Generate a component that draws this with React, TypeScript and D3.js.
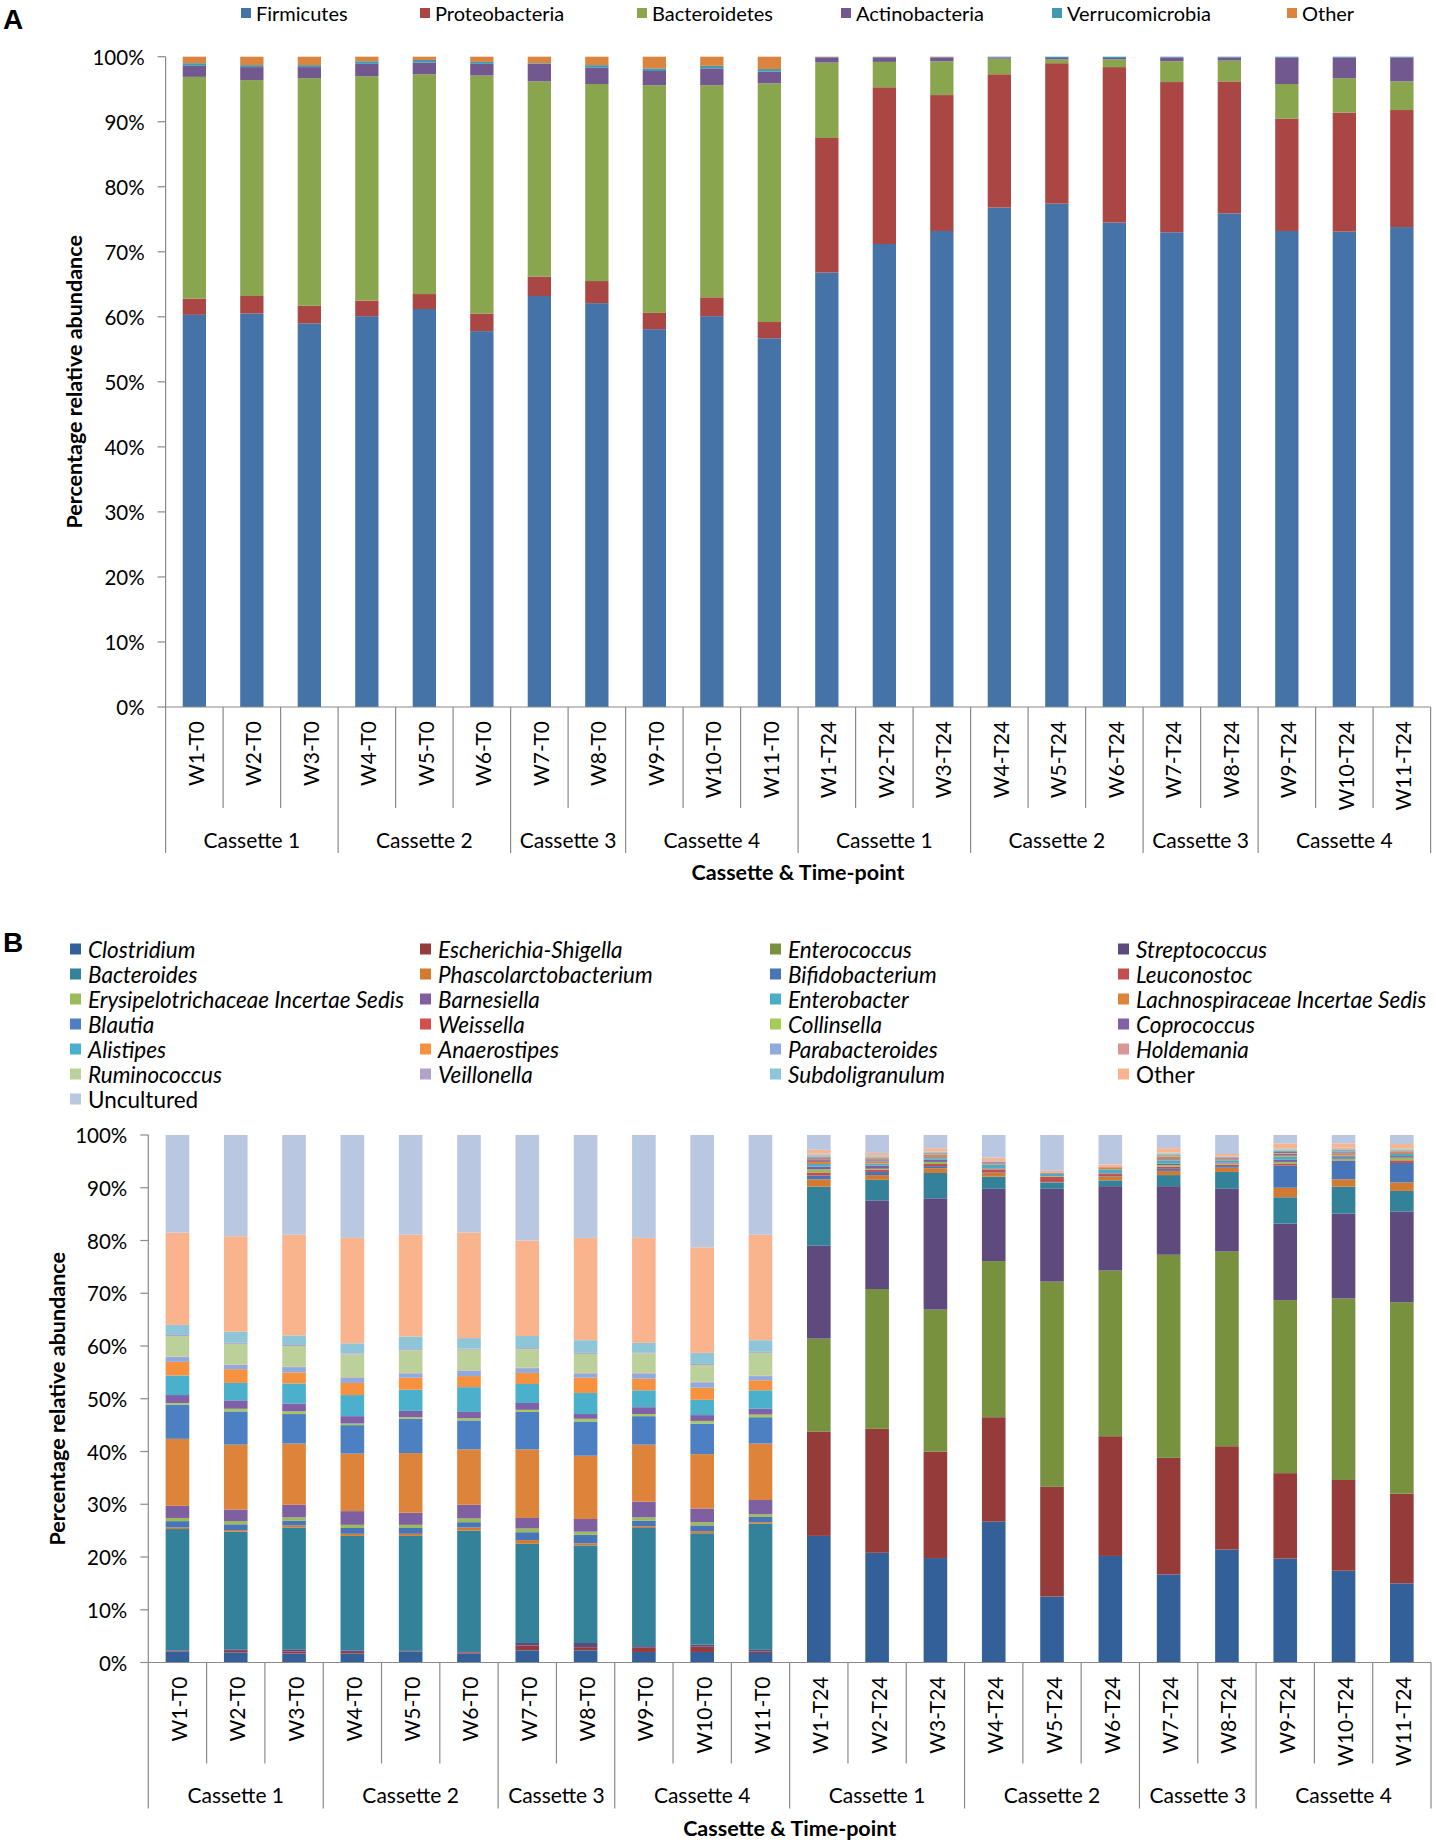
import React from "react";
import * as d3 from "d3";

// ---------------- DATA ----------------
const categories = [
  "W1-T0", "W2-T0", "W3-T0", "W4-T0", "W5-T0", "W6-T0", "W7-T0", "W8-T0", "W9-T0", "W10-T0", "W11-T0",
  "W1-T24", "W2-T24", "W3-T24", "W4-T24", "W5-T24", "W6-T24", "W7-T24", "W8-T24", "W9-T24", "W10-T24", "W11-T24",
];
const cassetteLabels = ["Cassette 1", "Cassette 2", "Cassette 3", "Cassette 4", "Cassette 1", "Cassette 2", "Cassette 3", "Cassette 4"];
const cassetteSizes = [3, 3, 2, 3, 3, 3, 2, 3];
const yTickValues = [0, 0.1, 0.2, 0.3, 0.4, 0.5, 0.6, 0.7, 0.8, 0.9, 1];

// Panel A (phylum level)
const phylumNames = ["Firmicutes", "Proteobacteria", "Bacteroidetes", "Actinobacteria", "Verrucomicrobia", "Other"];
const firmicutes = [60.3, 60.5, 59.0, 60.1, 61.2, 57.8, 63.2, 62.1, 58.1, 60.1, 56.7, 66.8, 71.2, 73.2, 76.8, 77.4, 74.5, 73.0, 75.9, 73.2, 73.1, 73.8];
const proteobacteria = [2.5, 2.7, 2.7, 2.4, 2.3, 2.7, 3.0, 3.4, 2.5, 2.9, 2.5, 20.7, 24.1, 20.9, 20.5, 21.6, 23.9, 23.1, 20.3, 17.3, 18.3, 18.0];
const bacteroidetes = [34.1, 33.2, 35.0, 34.5, 33.8, 36.6, 30.0, 30.3, 35.0, 32.6, 36.7, 11.6, 3.9, 5.2, 2.4, 0.6, 1.2, 3.2, 3.2, 5.3, 5.3, 4.4];
const actinobacteria = [1.7, 2.0, 1.7, 1.9, 1.8, 1.8, 2.7, 2.5, 2.2, 2.6, 1.8, 0.8, 0.7, 0.6, 0.2, 0.2, 0.2, 0.6, 0.5, 4.1, 3.2, 3.7];
const verrucomicrobia = [0.4, 0.3, 0.3, 0.4, 0.4, 0.3, 0.1, 0.4, 0.4, 0.4, 0.4, 0.05, 0.05, 0.05, 0.1, 0.2, 0.2, 0.1, 0.1, 0.1, 0.1, 0.1];
const phylumOther = [1.0, 1.3, 1.3, 0.7, 0.5, 0.8, 1.0, 1.3, 1.8, 1.4, 1.9, 0.05, 0.05, 0.05, 0, 0, 0, 0, 0, 0, 0, 0];
const phylumValues = [firmicutes, proteobacteria, bacteroidetes, actinobacteria, verrucomicrobia, phylumOther];
const phylumColors = ["#4572A7", "#AA4643", "#89A54E", "#71588F", "#4198AF", "#DB843D"];

// Panel B (genus level)
const genusNames = [
  "Clostridium", "Escherichia-Shigella", "Enterococcus", "Streptococcus",
  "Bacteroides", "Phascolarctobacterium", "Bifidobacterium", "Leuconostoc",
  "Erysipelotrichaceae Incertae Sedis", "Barnesiella", "Enterobacter", "Lachnospiraceae Incertae Sedis",
  "Blautia", "Weissella", "Collinsella", "Coprococcus",
  "Alistipes", "Anaerostipes", "Parabacteroides", "Holdemania",
  "Ruminococcus", "Veillonella", "Subdoligranulum", "Other",
  "Uncultured",
];
const clostridium = [2.0, 1.9, 1.7, 1.7, 2.0, 1.7, 2.3, 2.3, 2.0, 2.0, 1.8, 24.0, 20.8, 19.8, 26.7, 12.5, 20.2, 16.7, 21.4, 19.7, 17.4, 15.0];
const escherichia = [0.1, 0.3, 0.4, 0.3, 0.1, 0.2, 0.9, 0.6, 0.8, 1.0, 0.3, 19.8, 23.5, 20.2, 19.8, 20.8, 22.7, 22.1, 19.6, 16.2, 17.2, 17.0];
const enterococcus = [0, 0, 0, 0, 0, 0, 0, 0, 0, 0, 0, 17.6, 26.5, 26.9, 29.6, 38.9, 31.4, 38.5, 36.9, 32.8, 34.4, 36.3];
const streptococcus = [0.2, 0.3, 0.4, 0.3, 0.1, 0.1, 0.5, 0.8, 0.3, 0.4, 0.3, 17.6, 16.8, 21.1, 13.7, 17.6, 16.0, 13.0, 11.9, 14.5, 16.1, 17.2];
const bacteroides = [23.0, 22.3, 23.1, 21.7, 21.8, 23.0, 18.8, 18.5, 22.4, 21.1, 23.9, 11.2, 3.9, 4.8, 2.3, 1.1, 1.1, 2.1, 3.2, 5.0, 5.1, 3.9];
const phascolarctobacterium = [0.3, 0.3, 0.4, 0.4, 0.4, 0.6, 0.7, 0.4, 0.3, 0.4, 0.3, 1.4, 0.9, 0.9, 0.7, 0.1, 0.7, 0.8, 0.8, 1.8, 1.4, 1.6];
const bifidobacterium = [1.2, 1.1, 0.9, 1.1, 1.1, 1.0, 1.5, 1.6, 1.1, 1.1, 1.0, 0.7, 0.6, 0.4, 0.1, 0.1, 0.1, 0.4, 0.3, 4.2, 3.5, 3.7];
const leuconostoc = [0, 0, 0, 0, 0, 0, 0, 0, 0, 0, 0, 0.6, 0.4, 0.4, 0.6, 1.0, 0.4, 0.4, 0.3, 0.4, 0.1, 0.5];
const erysipelotrichaceae = [0.6, 0.6, 0.6, 0.6, 0.6, 0.7, 0.7, 0.6, 0.6, 0.6, 0.5, 0.6, 0.2, 0.4, 0.1, 0.1, 0.1, 0.3, 0.2, 0.3, 0.3, 0.5];
const barnesiella = [2.3, 2.2, 2.4, 2.6, 2.3, 2.6, 2.0, 2.4, 3.0, 2.6, 2.7, 0.5, 0.6, 0.4, 0.1, 0, 0.1, 0.3, 0.2, 0.4, 0.3, 0.3];
const enterobacter = [0, 0, 0, 0, 0, 0, 0, 0, 0, 0, 0, 0.5, 0.4, 0.3, 0.7, 0.5, 0.7, 0.6, 0.4, 0.6, 0.3, 0.4];
const lachnospiraceae = [12.7, 12.3, 11.6, 10.9, 11.3, 10.5, 13.0, 12.0, 10.8, 10.3, 10.7, 0.4, 0.4, 0.3, 0.2, 0, 0.3, 0.3, 0.2, 0.3, 0.4, 0.2];
const blautia = [6.5, 6.3, 5.6, 5.4, 6.5, 5.5, 7.1, 6.5, 5.4, 5.8, 5.0, 0.2, 0.2, 0.2, 0.1, 0, 0, 0.2, 0.1, 0.2, 0.2, 0.1];
const weissella = [0, 0, 0, 0, 0, 0, 0, 0, 0, 0, 0, 0.3, 0.2, 0.2, 0.1, 0.1, 0.1, 0.2, 0.1, 0.1, 0.1, 0.1];
const collinsella = [0.3, 0.5, 0.5, 0.3, 0.3, 0.4, 0.4, 0.5, 0.4, 0.5, 0.5, 0.1, 0.1, 0.1, 0, 0, 0, 0.1, 0, 0.1, 0.1, 0.1];
const coprococcus = [1.5, 1.6, 1.5, 1.4, 1.2, 1.2, 1.3, 0.9, 1.3, 1.1, 1.1, 0.2, 0.1, 0.1, 0.1, 0, 0, 0.1, 0.1, 0.2, 0.1, 0.1];
const alistipes = [3.7, 3.3, 3.8, 4.0, 4.0, 4.7, 3.6, 4.0, 3.2, 2.9, 3.5, 0.2, 0.1, 0.1, 0, 0, 0, 0.2, 0.1, 0.2, 0.2, 0.1];
const anaerostipes = [2.6, 2.6, 2.1, 2.3, 2.3, 2.1, 2.1, 2.9, 2.2, 2.3, 1.9, 0.1, 0.1, 0.1, 0, 0, 0, 0.1, 0, 0.1, 0.1, 0.1];
const parabacteroides = [0.9, 0.8, 1.0, 1.0, 0.8, 1.0, 0.9, 0.8, 1.0, 1.0, 0.8, 0.1, 0.1, 0, 0.1, 0, 0, 0.1, 0.1, 0.1, 0.1, 0.1];
const holdemania = [0.1, 0.1, 0.1, 0.1, 0.1, 0.1, 0.1, 0.1, 0.1, 0.1, 0.1, 0.1, 0.1, 0.1, 0, 0, 0, 0, 0, 0.1, 0.1, 0];
const ruminococcus = [3.9, 3.9, 3.9, 4.3, 4.3, 3.9, 3.5, 3.6, 3.7, 3.2, 4.3, 0.1, 0.1, 0, 0, 0, 0, 0.1, 0, 0.1, 0, 0.1];
const veillonella = [0.2, 0.2, 0.2, 0.2, 0.2, 0.2, 0.2, 0.2, 0.2, 0.2, 0.2, 0.1, 0, 0, 0, 0, 0, 0, 0, 0, 0.1, 0];
const subdoligranulum = [1.9, 2.1, 1.8, 1.9, 2.4, 2.0, 2.3, 2.4, 1.8, 2.1, 2.2, 0.1, 0.1, 0.1, 0, 0, 0, 0.1, 0, 0.1, 0, 0.1];
const genusOther = [17.5, 18.1, 19.1, 20.0, 19.3, 20.0, 18.1, 19.4, 19.9, 20.0, 20.0, 0.7, 0.4, 0.6, 0.7, 0.4, 0.5, 0.8, 0.5, 0.9, 0.8, 0.8];
const uncultured = [18.5, 19.2, 18.9, 19.5, 18.9, 18.5, 20.0, 19.5, 19.5, 21.3, 18.9, 2.8, 3.4, 2.5, 4.3, 6.8, 5.6, 2.5, 3.6, 1.6, 1.6, 1.7];
const genusValues = [
  clostridium, escherichia, enterococcus, streptococcus,
  bacteroides, phascolarctobacterium, bifidobacterium, leuconostoc,
  erysipelotrichaceae, barnesiella, enterobacter, lachnospiraceae,
  blautia, weissella, collinsella, coprococcus,
  alistipes, anaerostipes, parabacteroides, holdemania,
  ruminococcus, veillonella, subdoligranulum, genusOther,
  uncultured,
];
const genusColors = [
  "#34609A", "#953B39", "#77913F", "#5E4A7C",
  "#33829A", "#D27A30", "#4775B8", "#C0504D",
  "#9BBB59", "#7E5FA0", "#4BACC6", "#DE843A",
  "#4C80C2", "#D24F4C", "#A7C957", "#8060A8",
  "#4AB0CC", "#F6923F", "#8FAADC", "#D99694",
  "#BCD19A", "#B3A2C7", "#8EC6D8", "#F9B38D",
  "#B9C7E1",
];
const nonItalic = ["Other", "Uncultured"];

// ---------------- LAYOUT ----------------
const W = 1436;
const H = 1844;
const FONT = "Lato, 'Open Sans', sans-serif";
const AXIS = "#8A8A8A";

type PanelCfg = {
  keys: string[];
  values: number[][];
  colors: string[];
  x0: number;
  x1: number;
  yTop: number;
  yBottom: number;
  yTitleX: number;
};

function Panel({ cfg }: { cfg: PanelCfg }) {
  const rows = categories.map((c, i) => {
    const r: any = { cat: c };
    cfg.keys.forEach((k, j) => (r[k] = cfg.values[j][i]));
    return r;
  });
  const stack = d3.stack<any>().keys(cfg.keys).offset(d3.stackOffsetExpand);
  const layers = stack(rows);

  const x = d3
    .scaleBand<string>()
    .domain(categories)
    .range([cfg.x0, cfg.x1])
    .paddingInner(0.595)
    .paddingOuter(0.2975);
  const step = x.step();
  const y = d3.scaleLinear().domain([0, 1]).range([cfg.yBottom, cfg.yTop]);
  const fmt = d3.format(".0%");

  const axisY = cfg.yBottom;
  const bounds: number[] = [0];
  cassetteSizes.forEach((s) => bounds.push(bounds[bounds.length - 1] + s));
  const slotX = (i: number) => cfg.x0 + i * step;

  return (
    <g>
      {layers.map((layer, li) => (
        <g key={cfg.keys[li]} fill={cfg.colors[li]}>
          {layer.map((d: any) => {
            const h = y(d[0]) - y(d[1]);
            if (!(h > 0.01)) return null;
            return (
              <rect
                key={d.data.cat}
                x={x(d.data.cat)}
                y={y(d[1])}
                width={x.bandwidth()}
                height={h}
              />
            );
          })}
        </g>
      ))}

      {/* y axis */}
      <line x1={cfg.x0} x2={cfg.x0} y1={cfg.yTop} y2={cfg.yBottom} stroke={AXIS} strokeWidth={1.2} />
      {yTickValues.map((t) => (
        <g key={t}>
          <line x1={cfg.x0 - 8} x2={cfg.x0} y1={y(t)} y2={y(t)} stroke={AXIS} strokeWidth={1.2} />
          <text
            x={cfg.x0 - 21}
            y={y(t)}
            textAnchor="end"
            dominantBaseline="central"
            fontFamily={FONT}
            fontSize={20.5}
            fill="#000"
          >
            {fmt(t)}
          </text>
        </g>
      ))}

      {/* x axis */}
      <line x1={cfg.x0} x2={cfg.x1} y1={axisY} y2={axisY} stroke={AXIS} strokeWidth={1.2} />
      {categories.map((c, i) => {
        const isBound = bounds.includes(i);
        return (
          <line
            key={"sep" + i}
            x1={slotX(i)}
            x2={slotX(i)}
            y1={axisY}
            y2={axisY + (isBound ? 146 : 101)}
            stroke={AXIS}
            strokeWidth={1.2}
          />
        );
      })}
      <line x1={slotX(categories.length)} x2={slotX(categories.length)} y1={axisY} y2={axisY + 146} stroke={AXIS} strokeWidth={1.2} />
      {categories.map((c) => (
        <text
          key={"lab" + c}
          transform={`translate(${(x(c) as number) + x.bandwidth() / 2 + 1},${axisY + 14}) rotate(-90)`}
          textAnchor="end"
          dominantBaseline="central"
          fontFamily={FONT}
          fontSize={21}
          fill="#000"
        >
          {c}
        </text>
      ))}
      {cassetteLabels.map((lab, gi) => {
        const cx = (slotX(bounds[gi]) + slotX(bounds[gi + 1])) / 2;
        return (
          <text
            key={"cas" + gi}
            x={cx}
            y={axisY + 132}
            textAnchor="middle"
            dominantBaseline="central"
            fontFamily={FONT}
            fontSize={21}
            fill="#000"
          >
            {lab}
          </text>
        );
      })}
      <text
        x={(cfg.x0 + cfg.x1) / 2}
        y={axisY + 165}
        textAnchor="middle"
        dominantBaseline="central"
        fontFamily={FONT}
        fontSize={21.5}
        fontWeight="bold"
        fill="#000"
      >
        Cassette &amp; Time-point
      </text>
      <text
        transform={`translate(${cfg.yTitleX},${(cfg.yTop + cfg.yBottom) / 2}) rotate(-90)`}
        textAnchor="middle"
        dominantBaseline="central"
        fontFamily={FONT}
        fontSize={21.5}
        fontWeight="bold"
        fill="#000"
      >
        Percentage relative abundance
      </text>
    </g>
  );
}

// legend layout
const legendAX = [241, 420, 637, 841, 1052, 1287];
const legendAY = 13;
const legendBColX = [70, 420, 770, 1118];
const legendBRowY0 = 949;
const legendBRowStep = 25;

export default function App() {
  const cfgA: PanelCfg = {
    keys: phylumNames,
    values: phylumValues,
    colors: phylumColors,
    x0: 165.6,
    x1: 1430.6,
    yTop: 56.7,
    yBottom: 707,
    yTitleX: 74,
  };
  const cfgB: PanelCfg = {
    keys: genusNames,
    values: genusValues,
    colors: genusColors,
    x0: 148.3,
    x1: 1431,
    yTop: 1135,
    yBottom: 1662.5,
    yTitleX: 56.5,
  };
  return (
    <svg
      width={W}
      height={H}
      viewBox={`0 0 ${W} ${H}`}
      style={{ position: "absolute", left: 0, top: 0, display: "block" }}
    >
      <rect x={0} y={0} width={W} height={H} fill="#fff" />
      <text x={3} y={29} fontFamily="'Liberation Sans', Arial, sans-serif" fontWeight="bold" fontSize={28} fill="#000">
        A
      </text>
      <text x={3} y={952} fontFamily="'Liberation Sans', Arial, sans-serif" fontWeight="bold" fontSize={28} fill="#000">
        B
      </text>

      {/* Legend A */}
      {phylumNames.map((n, i) => (
        <g key={n}>
          <rect x={legendAX[i]} y={legendAY - 5} width={10} height={10} fill={phylumColors[i]} />
          <text
            x={legendAX[i] + 15}
            y={legendAY}
            dominantBaseline="central"
            fontFamily={FONT}
            fontSize={20}
            fill="#000"
          >
            {n}
          </text>
        </g>
      ))}

      {/* Legend B */}
      {genusNames.map((n, i) => {
        const col = i % 4;
        const row = Math.floor(i / 4);
        const lx = legendBColX[col];
        const ly = legendBRowY0 + row * legendBRowStep;
        return (
          <g key={n}>
            <rect x={lx} y={ly - 5.5} width={11} height={11} fill={genusColors[i]} />
            <text
              x={lx + 18}
              y={ly}
              dominantBaseline="central"
              fontFamily={FONT}
              fontSize={22.5}
              fontStyle={nonItalic.includes(n) ? "normal" : "italic"}
              fill="#000"
            >
              {n}
            </text>
          </g>
        );
      })}

      <Panel cfg={cfgA} />
      <Panel cfg={cfgB} />
    </svg>
  );
}
